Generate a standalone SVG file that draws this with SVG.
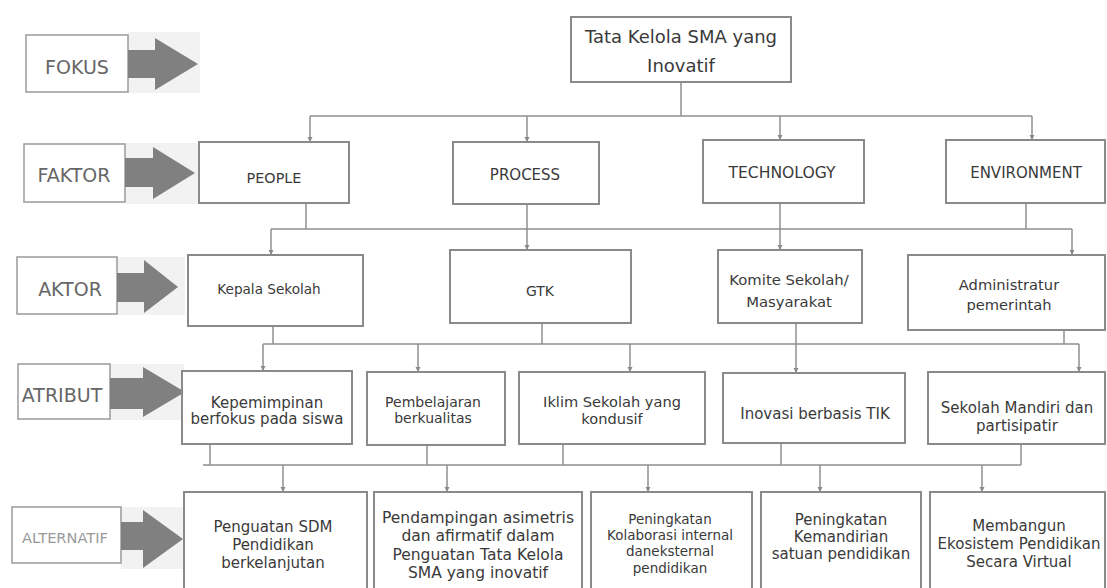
<svg xmlns="http://www.w3.org/2000/svg" width="1107" height="588" viewBox="0 0 1107 588">
<style>
  .bg{fill:#ffffff}
  .node rect{fill:#ffffff;stroke:#8a8a8a;stroke-width:2}
  .lab rect.box{fill:#ffffff;stroke:#9a9a9a;stroke-width:1.5}
  .lab rect.shade{fill:#f2f2f2;stroke:none}
  .lab polygon{fill:#808080}
  .lab text{font-family:"DejaVu Sans",sans-serif;font-size:19px;fill:#666;text-anchor:middle}
  .node text{font-family:"DejaVu Sans",sans-serif;font-size:15px;fill:#3a3a3a;text-anchor:middle}
  .conn path{fill:none;stroke:#8f8f8f;stroke-width:1.5}
  .conn path.d{marker-end:url(#ah)}
</style>
<defs>
  <marker id="ah" markerUnits="userSpaceOnUse" markerWidth="6" markerHeight="6" refX="5" refY="3" orient="auto">
    <path d="M0,0.5 L5,3 L0,5.5 z" fill="#8a8a8a"/>
  </marker>
</defs>
<rect class="bg" x="0" y="0" width="1107" height="588"/>

<!-- left labels -->
<g id="label-fokus" class="lab">
  <rect class="shade" x="128" y="32" width="72" height="61"/>
  <rect class="box" x="26" y="35" width="102" height="57"/>
  <polygon points="128,50 155,50 155,38 198,64 155,90 155,78 128,78"/>
  <text x="77" y="74">FOKUS</text>
</g>
<g id="label-faktor" class="lab">
  <rect class="shade" x="125" y="143" width="75" height="61"/>
  <rect class="box" x="24" y="144" width="101" height="58"/>
  <polygon points="125,158 153,158 153,147 195,173 153,199 153,187 125,187"/>
  <text x="74" y="182">FAKTOR</text>
</g>
<g id="label-aktor" class="lab">
  <rect class="shade" x="117" y="257" width="68" height="58"/>
  <rect class="box" x="17" y="257" width="100" height="57"/>
  <polygon points="117,273 144,273 144,260 178,287 144,313 144,302 117,302"/>
  <text x="70" y="296">AKTOR</text>
</g>
<g id="label-atribut" class="lab">
  <rect class="shade" x="110" y="364" width="74" height="56"/>
  <rect class="box" x="18" y="364" width="92" height="55"/>
  <polygon points="110,378 143,378 143,367 185,392 143,417 143,409 110,409"/>
  <text x="62" y="402">ATRIBUT</text>
</g>
<g id="label-alternatif" class="lab">
  <rect class="shade" x="121" y="507" width="62" height="62"/>
  <rect class="box" x="12" y="507" width="109" height="56"/>
  <polygon points="121,522 143,522 143,510 183,539 143,568 143,550 121,550"/>
  <text x="65" y="543" style="font-size:14.6px;fill:#999">ALTERNATIF</text>
</g>

<!-- connectors -->
<g id="connectors" class="conn">
  <path d="M681,82 V116"/>
  <path d="M310,116 H1032"/>
  <path class="d" d="M310,116 V142"/>
  <path class="d" d="M527,116 V142"/>
  <path class="d" d="M780,116 V140"/>
  <path class="d" d="M1032,116 V140"/>

  <path d="M306,203 V229"/>
  <path d="M527,204 V229"/>
  <path d="M780,203 V229"/>
  <path d="M1026,203 V229"/>
  <path d="M271,229 H1072"/>
  <path class="d" d="M271,229 V255"/>
  <path class="d" d="M527,229 V250"/>
  <path class="d" d="M780,229 V250"/>
  <path class="d" d="M1072,229 V255"/>

  <path d="M273,326 V344"/>
  <path d="M542,323 V344"/>
  <path d="M796,323 V344"/>
  <path d="M1064,330 V344"/>
  <path d="M263,344 H1079"/>
  <path class="d" d="M263,344 V371"/>
  <path class="d" d="M418,344 V372"/>
  <path class="d" d="M630,344 V372"/>
  <path class="d" d="M796,344 V373"/>
  <path class="d" d="M1079,344 V372"/>

  <path d="M210,444 V465"/>
  <path d="M427,445 V465"/>
  <path d="M563,444 V465"/>
  <path d="M781,443 V465"/>
  <path d="M1021,444 V465"/>
  <path d="M203,465 H1021"/>
  <path class="d" d="M283,465 V492"/>
  <path class="d" d="M447,465 V492"/>
  <path class="d" d="M648,465 V492"/>
  <path class="d" d="M820,465 V492"/>
  <path class="d" d="M982,465 V492"/>
</g>

<!-- focus -->
<g id="node-focus" class="node">
  <rect x="571" y="17" width="220" height="65"/>
  <text x="681" y="43" style="font-size:18px">Tata Kelola SMA yang</text>
  <text x="681" y="72" style="font-size:18px">Inovatif</text>
</g>

<!-- factors -->
<g id="node-people" class="node">
  <rect x="199" y="142" width="150" height="61"/>
  <text x="274" y="183" style="font-size:14.4px">PEOPLE</text>
</g>
<g id="node-process" class="node">
  <rect x="453" y="142" width="146" height="62"/>
  <text x="525" y="180">PROCESS</text>
</g>
<g id="node-technology" class="node">
  <rect x="703" y="140" width="161" height="63"/>
  <text x="782" y="178" style="font-size:15.6px">TECHNOLOGY</text>
</g>
<g id="node-environment" class="node">
  <rect x="946" y="140" width="159" height="63"/>
  <text x="1026" y="178">ENVIRONMENT</text>
</g>

<!-- actors -->
<g id="node-kepala" class="node">
  <rect x="188" y="255" width="175" height="71"/>
  <text x="269" y="294" style="font-size:13.6px">Kepala Sekolah</text>
</g>
<g id="node-gtk" class="node">
  <rect x="450" y="250" width="181" height="73"/>
  <text x="540" y="296" style="font-size:14px">GTK</text>
</g>
<g id="node-komite" class="node">
  <rect x="718" y="250" width="144" height="73"/>
  <text x="789" y="285" style="font-size:14.8px">Komite Sekolah/</text>
  <text x="789" y="307" style="font-size:14.8px">Masyarakat</text>
</g>
<g id="node-admin" class="node">
  <rect x="908" y="255" width="197" height="75"/>
  <text x="1009" y="290" style="font-size:14.7px">Administratur</text>
  <text x="1009" y="310" style="font-size:14.7px">pemerintah</text>
</g>

<!-- attributes -->
<g id="node-kepemimpinan" class="node">
  <rect x="182" y="371" width="170" height="73"/>
  <text x="267" y="408">Kepemimpinan</text>
  <text x="267" y="424">berfokus pada siswa</text>
</g>
<g id="node-pembelajaran" class="node">
  <rect x="367" y="372" width="138" height="73"/>
  <text x="433" y="407" style="font-size:14px">Pembelajaran</text>
  <text x="433" y="423" style="font-size:14px">berkualitas</text>
</g>
<g id="node-iklim" class="node">
  <rect x="519" y="372" width="186" height="72"/>
  <text x="612" y="407" style="font-size:14.6px">Iklim  Sekolah yang</text>
  <text x="612" y="424" style="font-size:14.6px">kondusif</text>
</g>
<g id="node-inovasi" class="node">
  <rect x="723" y="373" width="182" height="70"/>
  <text x="815" y="419">Inovasi berbasis TIK</text>
</g>
<g id="node-mandiri" class="node">
  <rect x="928" y="372" width="177" height="72"/>
  <text x="1017" y="413">Sekolah Mandiri dan</text>
  <text x="1017" y="431">partisipatir</text>
</g>

<!-- alternatives -->
<g id="node-penguatan" class="node">
  <rect x="184" y="492" width="183" height="104"/>
  <text x="273" y="532">Penguatan SDM</text>
  <text x="273" y="550">Pendidikan</text>
  <text x="273" y="568">berkelanjutan</text>
</g>
<g id="node-pendampingan" class="node">
  <rect x="374" y="492" width="208" height="104"/>
  <text x="478" y="523" style="font-size:15.5px">Pendampingan  asimetris</text>
  <text x="478" y="541" style="font-size:15.5px">dan afirmatif dalam</text>
  <text x="478" y="560" style="font-size:15.5px">Penguatan Tata Kelola</text>
  <text x="478" y="578" style="font-size:15.5px">SMA yang inovatif</text>
</g>
<g id="node-kolaborasi" class="node">
  <rect x="591" y="492" width="161" height="104"/>
  <text x="670" y="524" style="font-size:13.5px">Peningkatan</text>
  <text x="670" y="540" style="font-size:13.5px">Kolaborasi internal</text>
  <text x="670" y="556" style="font-size:13.5px">daneksternal</text>
  <text x="670" y="573" style="font-size:13.5px">pendidikan</text>
</g>
<g id="node-kemandirian" class="node">
  <rect x="761" y="492" width="160" height="104"/>
  <text x="841" y="525">Peningkatan</text>
  <text x="841" y="542">Kemandirian</text>
  <text x="841" y="559">satuan pendidikan</text>
</g>
<g id="node-ekosistem" class="node">
  <rect x="930" y="492" width="175" height="104"/>
  <text x="1019" y="531">Membangun</text>
  <text x="1019" y="549">Ekosistem Pendidikan</text>
  <text x="1019" y="567">Secara Virtual</text>
</g>
</svg>
